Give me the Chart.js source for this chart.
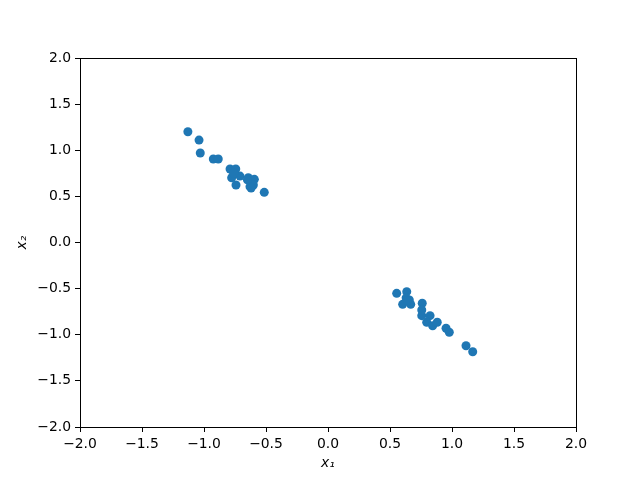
<!DOCTYPE html>
<html>
<head>
<meta charset="utf-8">
<script src="https://cdn.jsdelivr.net/npm/chart.js@4/dist/chart.umd.min.js"></script>
<style>
  html, body { margin: 0; padding: 0; background: #fff; }
  #wrap { width: 640px; height: 480px; }
</style>
</head>
<body>
<div id="wrap"><canvas id="chart" width="640" height="480"></canvas></div>
<script>
// upper-left cluster
const clusterAx = [-1.13, -1.04, -1.03, -0.925, -0.885, -0.79, -0.744, -0.777, -0.71, -0.643, -0.594, -0.742, -0.629, -0.602, -0.514, -0.76, -0.62, -0.65];
const clusterAy = [1.20, 1.11, 0.97, 0.905, 0.905, 0.797, 0.797, 0.702, 0.72, 0.702, 0.685, 0.623, 0.605, 0.623, 0.544, 0.75, 0.59, 0.68];
// lower-right cluster
const clusterBx = [0.554, 0.635, 0.656, 0.602, 0.667, 0.76, 0.756, 0.756, 0.823, 0.796, 0.844, 0.881, 0.952, 0.978, 1.113, 1.167, 0.63, 0.64];
const clusterBy = [-0.551, -0.533, -0.623, -0.67, -0.67, -0.659, -0.732, -0.793, -0.793, -0.865, -0.902, -0.865, -0.93, -0.973, -1.119, -1.184, -0.60, -0.63];
const tickValues = [-2.0, -1.5, -1.0, -0.5, 0.0, 0.5, 1.0, 1.5, 2.0];

const points = clusterAx.map((x, i) => ({ x, y: clusterAy[i] }))
  .concat(clusterBx.map((x, i) => ({ x, y: clusterBy[i] })));

const font = { family: 'DejaVu Sans', size: 13.9 };
const fmt = (v) => v.toFixed(1).replace('-', '\u2212');

const frame = {
  id: 'frame',
  afterDraw(chart) {
    const { ctx, chartArea: a } = chart;
    ctx.save();
    ctx.strokeStyle = '#000';
    ctx.lineWidth = 1;
    ctx.strokeRect(a.left + 0.5, a.top + 0.5, a.right - a.left, a.bottom - a.top);
    ctx.restore();
  },
};

function axis(title, pos) {
  return {
    type: 'linear',
    position: pos,
    min: -2,
    max: 2,
    afterBuildTicks: (scale) => { scale.ticks = tickValues.map((v) => ({ value: v })); },
    afterFit: (scale) => {
      if (pos === 'left') scale.width = 66;
      else scale.height = 45;
    },
    grid: { drawOnChartArea: false, drawTicks: true, tickLength: 5, color: '#000' },
    border: { display: true, color: '#000' },
    ticks: { color: '#000', font, padding: 4, maxRotation: 0, callback: (v) => fmt(v) },
    title: {
      display: true,
      text: title,
      color: '#000',
      font: { family: 'DejaVu Sans', size: 13.9, style: 'italic' },
      padding: 0,
    },
  };
}

new Chart(document.getElementById('chart'), {
  type: 'scatter',
  data: {
    datasets: [
      {
        data: points,
        backgroundColor: '#1f77b4',
        borderColor: '#1f77b4',
        pointRadius: 4.5,
        pointHoverRadius: 4.5,
        borderWidth: 0,
      },
    ],
  },
  options: {
    responsive: false,
    animation: false,
    layout: { padding: { top: 58, right: 64, left: 14, bottom: 8 } },
    scales: {
      x: axis('x\u2081', 'bottom'),
      y: axis('x\u2082', 'left'),
    },
    plugins: {
      legend: { display: false },
      tooltip: { enabled: false },
    },
  },
  plugins: [frame],
});
</script>
</body>
</html>
